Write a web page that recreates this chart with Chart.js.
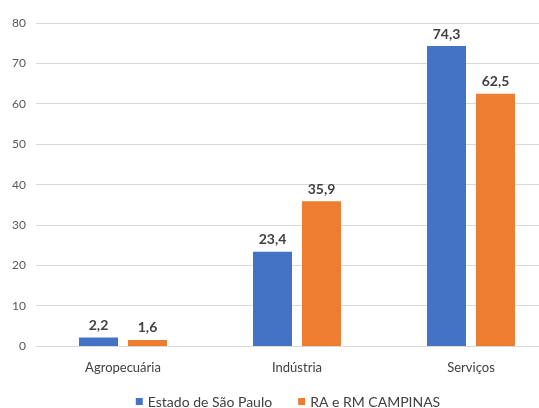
<!DOCTYPE html>
<html>
<head>
<meta charset="utf-8">
<script src="https://cdn.jsdelivr.net/npm/chart.js@4/dist/chart.umd.min.js"></script>
<style>
  html, body { margin: 0; padding: 0; background: #fff; overflow: hidden; }
  #wrap { position: relative; width: 580px; height: 408px; }
</style>
</head>
<body>
<div id="wrap"><canvas id="chart"></canvas></div>
<script>
// ── Data ────────────────────────────────────────────────────────────────
const categories = ['Agropecuária', 'Indústria', 'Serviços'];
const estadoSP   = [2.2, 23.4, 74.3];
const campinas   = [1.6, 35.9, 62.5];
const yTicks     = [0, 10, 20, 30, 40, 50, 60, 70, 80];

const FONT = 'Lato, "Liberation Sans", sans-serif';

// ── Value labels above bars ─────────────────────────────────────────────
const barLabels = {
  id: 'barLabels',
  afterDatasetsDraw(chart) {
    const ctx = chart.ctx;
    ctx.save();
    ctx.font = 'bold 14px ' + FONT;
    ctx.fillStyle = '#404040';
    ctx.textAlign = 'center';
    ctx.textBaseline = 'bottom';
    chart.data.datasets.forEach((ds, i) => {
      chart.getDatasetMeta(i).data.forEach((bar, j) => {
        const txt = ds.data[j].toFixed(1).replace('.', ',');
        ctx.fillText(txt, bar.x, bar.y - 5);
      });
    });
    ctx.restore();
  }
};

// ── Bottom legend (drawn by hand for exact placement) ───────────────────
const bottomLegend = {
  id: 'bottomLegend',
  afterDraw(chart) {
    const ctx = chart.ctx;
    const box = 7, gapTxt = 5, gapItem = 26, yMid = 401;
    ctx.save();
    ctx.font = '14px ' + FONT;
    ctx.textBaseline = 'middle';
    ctx.textAlign = 'left';
    const items = chart.data.datasets.map(ds => ({
      label: ds.label, color: ds.backgroundColor, w: ctx.measureText(ds.label).width,
    }));
    const total = items.reduce((s, it) => s + box + gapTxt + it.w, 0) + gapItem * (items.length - 1);
    let x = chart.width / 2 - 2 - total / 2;
    items.forEach(it => {
      ctx.fillStyle = it.color;
      ctx.fillRect(x, yMid - 3, box, box);
      x += box + gapTxt;
      ctx.fillStyle = '#404040';
      ctx.fillText(it.label, x, yMid + 1);
      x += it.w + gapItem;
    });
    ctx.restore();
  }
};

new Chart(document.getElementById('chart'), {
  type: 'bar',
  data: {
    labels: categories,
    datasets: [
      { label: 'Estado de São Paulo', data: estadoSP, backgroundColor: '#4472C4',
        categoryPercentage: 0.563, barPercentage: 0.796 },
      { label: 'RA e RM CAMPINAS', data: campinas, backgroundColor: '#ED7D31',
        categoryPercentage: 0.563, barPercentage: 0.796 },
    ],
  },
  options: {
    responsive: true,
    maintainAspectRatio: false,
    animation: false,
    layout: { padding: { top: 23, right: 22, left: 0, bottom: 26 } },
    plugins: {
      tooltip: { enabled: false },
      legend: { display: false },
    },
    scales: {
      x: {
        grid: { display: false },
        border: { display: false },
        ticks: { color: '#404040', font: { family: FONT, size: 13 }, padding: 6 },
      },
      y: {
        min: 0, max: 80,
        afterBuildTicks(axis) { axis.ticks = yTicks.map(v => ({ value: v })); },
        grid: { color: '#d9d9d9', lineWidth: 1, drawTicks: true, tickLength: 8, tickColor: '#fff' },
        border: { display: false },
        ticks: { color: '#595959', font: { family: FONT, size: 12 }, padding: 2 },
        afterFit(axis) { axis.width = 36; },
      },
    },
  },
  plugins: [barLabels, bottomLegend],
});
</script>
</body>
</html>
